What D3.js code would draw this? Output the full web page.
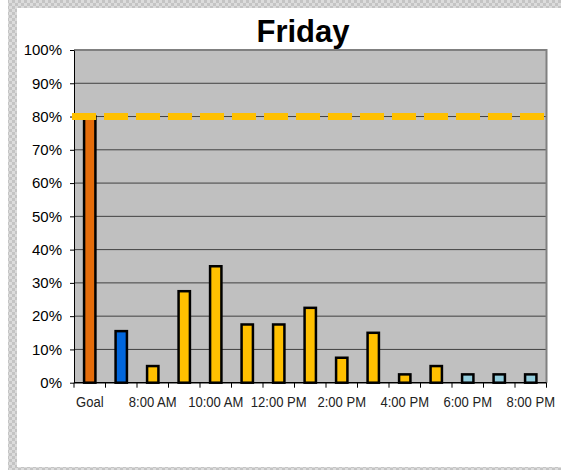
<!DOCTYPE html>
<html>
<head>
<meta charset="utf-8">
<script src="https://cdn.jsdelivr.net/npm/d3@7"></script>
<style>
  html, body { margin: 0; padding: 0; background: #fff; }
  svg { display: block; font-family: Arial, "Liberation Sans", sans-serif; }
</style>
</head>
<body>
<svg id="chart" width="561" height="470"></svg>
<script>
'use strict'

// hours of the day, "Goal" first
const categories = ['Goal', '7:00 AM', '8:00 AM', '9:00 AM', '10:00 AM', '11:00 AM', '12:00 PM',
  '1:00 PM', '2:00 PM', '3:00 PM', '4:00 PM', '5:00 PM', '6:00 PM', '7:00 PM', '8:00 PM']
const values = [80, 15.5, 5, 27.5, 35, 17.5, 17.5, 22.5, 7.5, 15, 2.5, 5, 2.5, 2.5, 2.5]
const kinds = ['goal', 'early', 'day', 'day', 'day', 'day', 'day', 'day', 'day', 'day', 'day', 'day', 'late', 'late', 'late']
const goal = 80
const yTicks = [0, 10, 20, 30, 40, 50, 60, 70, 80, 90, 100]

const kindColor = { goal: '#E46C0A', early: '#0066DD', day: '#FFC000', late: '#93CDDD' }

const svg = d3.select('#chart')

// checkered frame on the left, top and bottom
const defs = svg.append('defs')
const pat = defs.append('pattern')
  .attr('id', 'checker').attr('width', 6).attr('height', 6)
  .attr('patternUnits', 'userSpaceOnUse')
pat.append('rect').attr('width', 6).attr('height', 6).attr('fill', '#dcdcdc')
pat.append('rect').attr('width', 3).attr('height', 3).attr('fill', '#c4c4c4')
pat.append('rect').attr('x', 3).attr('y', 3).attr('width', 3).attr('height', 3).attr('fill', '#c4c4c4')

svg.append('rect').attr('x', 8).attr('y', 0).attr('width', 553).attr('height', 8).attr('fill', 'url(#checker)')
svg.append('rect').attr('x', 8).attr('y', 0).attr('width', 9).attr('height', 470).attr('fill', 'url(#checker)')
svg.append('rect').attr('x', 8).attr('y', 467).attr('width', 553).attr('height', 3).attr('fill', 'url(#checker)')

const plot = { left: 74, right: 546.5, top: 50, bottom: 382.7 }

const x = d3.scaleBand()
  .domain(categories)
  .range([plot.left, plot.right])
  .paddingInner(0.64)
  .paddingOuter(0.32)

const xStep = d3.scaleBand().domain(categories).range([plot.left, plot.right])

const y = d3.scaleLinear().domain([0, 100]).range([plot.bottom, plot.top])

// plot background
svg.append('rect')
  .attr('x', plot.left).attr('y', plot.top)
  .attr('width', plot.right - plot.left).attr('height', plot.bottom - plot.top)
  .attr('fill', '#C0C0C0')

// gridlines
svg.append('g')
  .selectAll('line')
  .data(yTicks.filter(d => d > 0 && d < 100))
  .join('line')
  .attr('x1', plot.left).attr('x2', plot.right)
  .attr('y1', d => y(d)).attr('y2', d => y(d))
  .attr('stroke', '#404040').attr('stroke-width', 1)

// plot border top / right
svg.append('path')
  .attr('d', `M${plot.left},${plot.top}H${plot.right}V${plot.bottom}`)
  .attr('fill', 'none').attr('stroke', '#808080').attr('stroke-width', 2)

// bars
svg.append('g')
  .selectAll('rect')
  .data(categories)
  .join('rect')
  .attr('x', d => x(d))
  .attr('y', (d, i) => y(values[i]))
  .attr('width', x.bandwidth())
  .attr('height', (d, i) => y(0) - y(values[i]))
  .attr('fill', (d, i) => kindColor[kinds[i]])
  .attr('stroke', '#000').attr('stroke-width', 2.5)

// y axis
const yAxis = svg.append('g')
  .attr('transform', `translate(${plot.left},0)`)
  .call(d3.axisLeft(y).tickValues(yTicks).tickFormat(d => d + '%').tickSize(4).tickPadding(8).tickSizeOuter(0))
yAxis.select('.domain').attr('stroke', '#000')
yAxis.selectAll('text').attr('font-size', 15).attr('fill', '#000')
  .attr('font-family', 'Arial, "Liberation Sans", sans-serif')

// x axis, ticks between categories
const xAxis = svg.append('g').attr('transform', `translate(0,${plot.bottom})`)
xAxis.append('line')
  .attr('x1', plot.left).attr('x2', plot.right)
  .attr('stroke', '#000').attr('stroke-width', 1.5)
const bounds = categories.map(c => xStep(c)).concat([plot.right])
xAxis.selectAll('line.tick')
  .data(bounds)
  .join('line')
  .attr('class', 'tick')
  .attr('x1', d => d).attr('x2', d => d)
  .attr('y1', 0).attr('y2', 5)
  .attr('stroke', '#000')
xAxis.selectAll('text')
  .data(categories.filter((c, i) => i % 2 === 0))
  .join('text')
  .attr('transform', d => `translate(${xStep(d) + xStep.bandwidth() / 2},24) scale(0.87,1)`)
  .attr('text-anchor', 'middle')
  .attr('font-size', 15)
  .attr('fill', '#222')
  .text(d => d)

// goal line
svg.append('line')
  .attr('x1', plot.left - 2).attr('x2', plot.right)
  .attr('y1', y(goal)).attr('y2', y(goal))
  .attr('stroke', '#FFC000').attr('stroke-width', 7)
  .attr('stroke-dasharray', '24 8')

// title
svg.append('text')
  .attr('x', 303).attr('y', 42)
  .attr('text-anchor', 'middle')
  .attr('font-size', 31).attr('font-weight', 'bold')
  .attr('fill', '#000')
  .text('Friday')
</script>
</body>
</html>
